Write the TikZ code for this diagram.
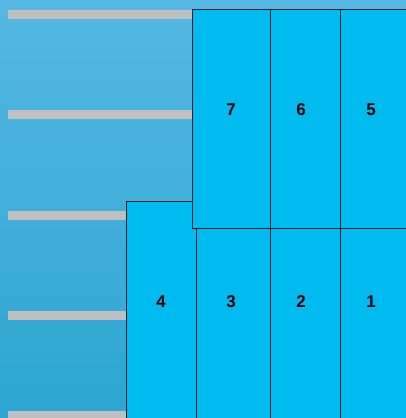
\documentclass[tikz,border=0pt]{standalone}
\usepackage{fontspec}
\setmainfont{Liberation Sans}
\usepackage{xcolor}
\definecolor{skytop}{HTML}{55B8E2}
\definecolor{skybot}{HTML}{2CA6D2}
\definecolor{boxfill}{HTML}{00BBF0}
\definecolor{barcol}{HTML}{C0C0C0}
\tikzset{
  shelf/.style={fill=barcol, draw=none},
  bin/.style={fill=boxfill, draw=black!90, line width=0.75pt},
  num/.style={font=\bfseries\fontsize{17}{17}\selectfont, text=black}
}

\begin{document}
\begin{tikzpicture}[x=1pt, y=-1pt]
  \useasboundingbox (0,0) rectangle (406,418);
  \clip (0,0) rectangle (406,418);
  % Background
  \shade[top color=skytop, bottom color=skybot] (0,0) rectangle (406,418);
  % Shelves
  \foreach \y in {10,110,211,311,411} {
    \fill[shelf] (8,\y) rectangle (200,\y+9);
  }
  % Lower row
  \draw[bin] (126,201) rectangle (196,420);
  \draw[bin] (196,228) rectangle (270,420);
  \draw[bin] (270,228) rectangle (340,420);
  \draw[bin] (340,228) rectangle (410,420);
  % Upper row
  \draw[bin] (192,9) rectangle (270,228);
  \draw[bin] (270,9) rectangle (340,228);
  \draw[bin] (340,9) rectangle (410,228);
  % Numbers
  \node[num] (n7) at (231,110) {7};
  \node[num] (n6) at (301,110) {6};
  \node[num] (n5) at (371,110) {5};
  \node[num] (n4) at (161,302) {4};
  \node[num] (n3) at (231,302) {3};
  \node[num] (n2) at (301,302) {2};
  \node[num] (n1) at (371,302) {1};
\end{tikzpicture}
\end{document}
